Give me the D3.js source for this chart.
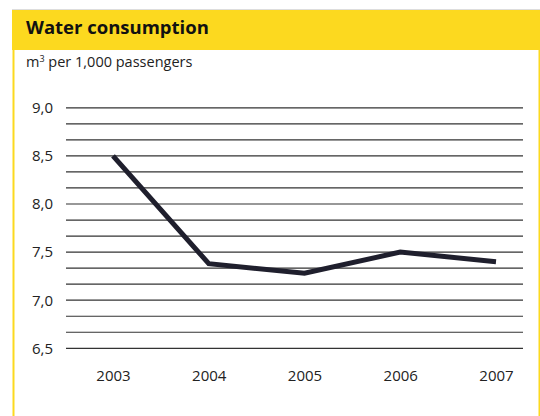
<!DOCTYPE html>
<html>
<head>
<meta charset="utf-8">
<script src="https://cdn.jsdelivr.net/npm/d3@7"></script>
<style>
  body { margin: 0; background: #fff; }
  svg { display: block; font-family: "Open Sans", "Noto Sans", sans-serif; }
</style>
</head>
<body>
<div id="chart"></div>
<script>
// Chart data
const years = ['2003', '2004', '2005', '2006', '2007'];
const waterValues = [8.5, 7.38, 7.28, 7.5, 7.4];
const tickValues = [6.5, 7.0, 7.5, 8.0, 8.5, 9.0];
const gridValues = d3.range(0, 16).map(i => 6.5 + i / 6);

const width = 540, height = 416;
const yellow = '#fcd91f';

const svg = d3.select('#chart').append('svg')
  .attr('width', width)
  .attr('height', height);

// Frame: yellow header and side borders
svg.append('rect')
  .attr('x', 12).attr('y', 9)
  .attr('width', width - 12).attr('height', 41)
  .attr('fill', yellow);
svg.append('line')
  .attr('x1', 12).attr('x2', width)
  .attr('y1', 9.5).attr('y2', 9.5)
  .attr('stroke', '#ddd');
svg.append('rect')
  .attr('x', 12.5).attr('y', 50)
  .attr('width', 2).attr('height', height - 50)
  .attr('fill', yellow);
svg.append('rect')
  .attr('x', 538.5).attr('y', 50)
  .attr('width', 1.5).attr('height', height - 50)
  .attr('fill', yellow);

// Title and unit
svg.append('text')
  .attr('x', 26).attr('y', 34)
  .attr('font-size', 18.5)
  .attr('font-weight', 'bold')
  .attr('fill', '#111')
  .text('Water consumption');

const unit = svg.append('text')
  .attr('x', 26).attr('y', 67)
  .attr('font-size', 14.5)
  .attr('fill', '#222');
unit.append('tspan').text('m');
unit.append('tspan').attr('font-size', 9).attr('dy', -5).text('3');
unit.append('tspan').attr('dy', 5).text(' per 1,000 passengers');

// Scales
const x = d3.scalePoint()
  .domain(years)
  .range([113, 496]);

const y = d3.scaleLinear()
  .domain([6.5, 9.0])
  .range([348.3, 107.8]);

// Gridlines
svg.append('g')
  .selectAll('line')
  .data(gridValues)
  .enter().append('line')
  .attr('x1', 66).attr('x2', 523)
  .attr('y1', d => y(d)).attr('y2', d => y(d))
  .attr('stroke', '#333')
  .attr('stroke-width', 1.2);

// Y axis labels
const yAxis = svg.append('g')
  .attr('transform', 'translate(62,0)')
  .call(d3.axisLeft(y)
    .tickValues(tickValues)
    .tickSize(0)
    .tickPadding(0)
    .tickFormat(d => d3.format('.1f')(d).replace('.', ',')));
yAxis.select('.domain').remove();
yAxis.selectAll('text')
  .attr('font-size', 15)
  .attr('font-family', '"Open Sans", "Noto Sans", sans-serif')
  .attr('fill', '#222')
  .attr('dx', -9);

// X axis labels
const xAxis = svg.append('g')
  .attr('transform', 'translate(0,370)')
  .call(d3.axisBottom(x).tickSize(0).tickPadding(0));
xAxis.select('.domain').remove();
xAxis.selectAll('text')
  .attr('font-size', 15)
  .attr('font-family', '"Open Sans", "Noto Sans", sans-serif')
  .attr('fill', '#222');

// Line
const line = d3.line()
  .x((d, i) => x(years[i]))
  .y(d => y(d));

svg.append('path')
  .datum(waterValues)
  .attr('d', line)
  .attr('fill', 'none')
  .attr('stroke', '#1f1f2d')
  .attr('stroke-width', 5);
</script>
</body>
</html>
